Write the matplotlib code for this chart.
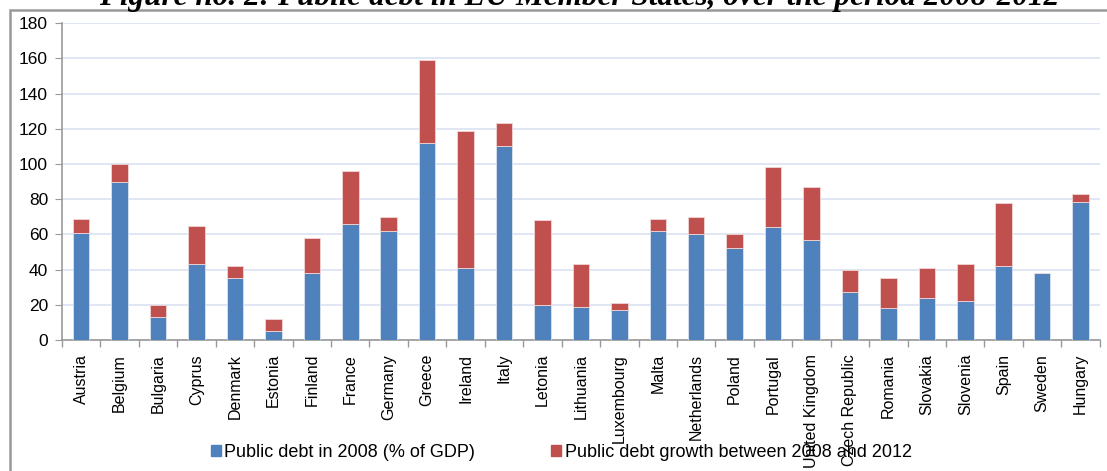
import numpy as np
import matplotlib.pyplot as plt
from matplotlib.patches import Patch, Rectangle

countries = ['Austria', 'Belgium', 'Bulgaria', 'Cyprus', 'Denmark', 'Estonia', 'Finland',
             'France', 'Germany', 'Greece', 'Ireland', 'Italy', 'Letonia', 'Lithuania',
             'Luxembourg', 'Malta', 'Netherlands', 'Poland', 'Portugal', 'United Kingdom',
             'Czech Republic', 'Romania', 'Slovakia', 'Slovenia', 'Spain', 'Sweden', 'Hungary']
debt_2008 = [61, 90, 13, 43, 35, 5, 38, 66, 62, 112, 41, 110, 20, 19, 17, 62, 60, 52, 64,
             57, 27.5, 18, 24, 22, 42, 38, 78.5]
debt_2012 = [69, 100, 20, 64.5, 42, 12, 58, 96, 70, 159, 119, 123, 68, 43, 21, 69, 70, 60,
             98, 87, 40, 35, 41, 43, 78, 38, 83]
growth = [t - b for t, b in zip(debt_2012, debt_2008)]

blue = '#4F81BD'
red = '#C0504D'

plt.rcParams['font.family'] = ['Liberation Sans', 'DejaVu Sans']
fig = plt.figure(figsize=(11.07, 4.71), dpi=100)
ax = fig.add_axes([0.056, 0.278, 0.9375, 0.673])

x = np.arange(len(countries))
ax.bar(x, debt_2008, width=0.43, color=blue, edgecolor='#dbe4f0', linewidth=0.6, zorder=3)
ax.bar(x, growth, bottom=debt_2008, width=0.43, color=red, edgecolor='#f0d6d5',
       linewidth=0.6, zorder=3)

ax.set_ylim(0, 180)
ax.set_yticks(range(0, 181, 20))
ax.set_xlim(-0.5, len(countries) - 0.5)
ax.yaxis.grid(True, color='#dae2f2', linewidth=1.2, zorder=0)
ax.set_axisbelow(True)
for s in ['top', 'right']:
    ax.spines[s].set_visible(False)
for s in ['left', 'bottom']:
    ax.spines[s].set_color('#999999')
    ax.spines[s].set_linewidth(1.2)

ax.set_xticks(x)
ax.set_xticklabels(countries, rotation=90, fontsize=11.5)
ax.tick_params(axis='x', length=0, pad=10)
ax.set_xticks(np.arange(-0.5, len(countries), 1), minor=True)
ax.tick_params(axis='x', which='minor', length=5, color='#999999', width=1)
ax.tick_params(axis='y', labelsize=12.5, length=5, color='#999999', pad=5)

handles = [Patch(color=blue, label='Public debt in 2008 (% of GDP)'),
           Patch(color=red, label='Public debt growth between 2008 and 2012')]
fig.legend(handles=handles, loc='center', bbox_to_anchor=(0.507, 0.04), ncol=2,
           frameon=False, fontsize=13, handlelength=0.55, handleheight=0.55,
           handletextpad=0.2, columnspacing=4.2)

# outer frame of the figure box
fig.patches.append(Rectangle((10 / 1107, -0.1), 1.2, 1 - 10 / 471 + 0.1,
                             transform=fig.transFigure, fill=False,
                             edgecolor='#999999', linewidth=1.8))

fig.text(0.523, 1 - 5 / 471,
         'Figure no. 2: Public debt in EU Member States, over the period 2008-2012',
         family='Liberation Serif', fontsize=22.5, fontweight='bold', style='italic',
         ha='center', va='baseline')

fig.savefig('out.png', dpi=100)
